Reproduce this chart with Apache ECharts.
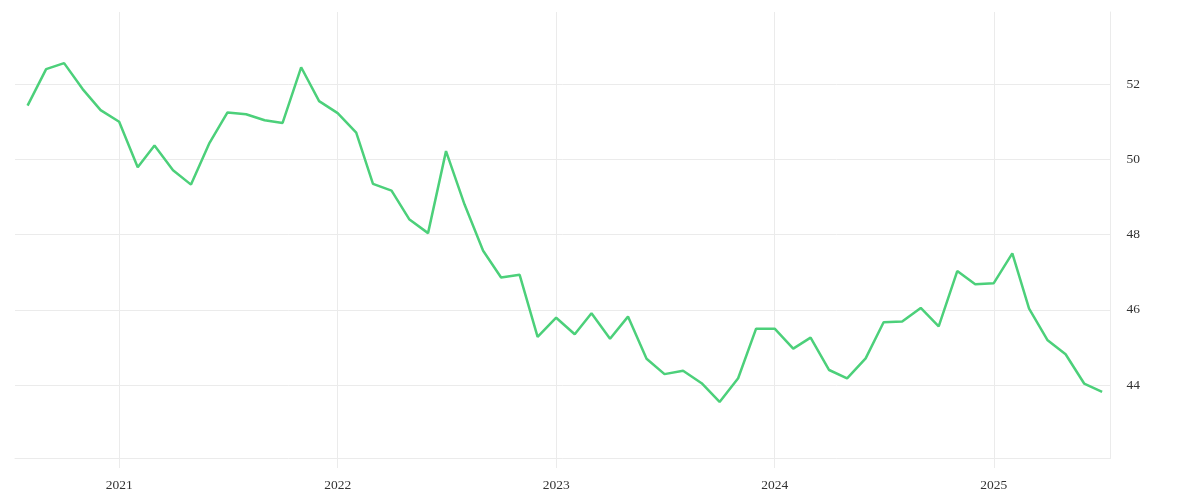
<!DOCTYPE html>
<html>
<head>
<meta charset="utf-8">
<script src="https://cdn.jsdelivr.net/npm/echarts@6/dist/echarts.min.js"></script>
<style>
  html, body { margin: 0; padding: 0; background: #fff; }
  #main { width: 1200px; height: 500px; }
</style>
</head>
<body>
<div id="main"></div>
<script>
// monthly readings, first of each month, Aug 2020 .. Jul 2025
var startYear = 2020;
var startMonth = 8;
var values = [
    51.43, 52.40, 52.56, 51.87, 51.31,
    51.00, 49.79, 50.37, 49.71, 49.33, 50.44, 51.25, 51.20, 51.04, 50.97, 52.45, 51.55,
    51.23, 50.71, 49.35, 49.17, 48.40, 48.04, 50.22, 48.80, 47.57, 46.86, 46.93, 45.28,
    45.79, 45.35, 45.91, 45.23, 45.82, 44.70, 44.29, 44.38, 44.05, 43.55, 44.18, 45.50,
    45.50, 44.97, 45.26, 44.40, 44.18, 44.71, 45.67, 45.69, 46.05, 45.56, 47.03, 46.68,
    46.71, 47.50, 46.03, 45.19, 44.82, 44.04, 43.82
];
var xRange = ['2020-07-11', '2025-07-15'];
var yRange = [42.06, 53.92];

var seriesData = values.map(function (v, i) {
    var m = startMonth - 1 + i;
    var y = startYear + Math.floor(m / 12);
    var mm = (m % 12) + 1;
    var d = y + '-' + (mm < 10 ? '0' + mm : mm) + '-01';
    return [d, v];
});

var dom = document.getElementById('main');
var myChart = echarts.init(dom, null, { renderer: 'canvas' });

var gridColor = '#ebebeb';
var labelFont = {
    fontFamily: 'Liberation Serif',
    fontSize: 13.5,
    color: '#333'
};

var option = {
    animation: false,
    grid: {
        left: 15,
        right: 89.5,
        top: 12,
        bottom: 42
    },
    xAxis: {
        type: 'time',
        min: xRange[0],
        max: xRange[1],
        minInterval: 365 * 24 * 3600 * 1000,
        maxInterval: 366 * 24 * 3600 * 1000,
        axisLine: { show: true, lineStyle: { color: gridColor, width: 1 } },
        axisTick: { show: true, length: 10, lineStyle: { color: gridColor } },
        splitLine: {
            show: true,
            showMinLine: false,
            lineStyle: { color: gridColor, width: 1 }
        },
        axisLabel: Object.assign({
            margin: 20,
            formatter: '{yyyy}',
            showMinLabel: false,
            showMaxLabel: false
        }, labelFont)
    },
    yAxis: {
        type: 'value',
        position: 'right',
        min: yRange[0],
        max: yRange[1],
        splitNumber: 6,
        axisLine: { show: true, lineStyle: { color: gridColor, width: 1 } },
        axisTick: { show: false },
        splitLine: {
            show: true,
            showMinLine: false,
            showMaxLine: false,
            lineStyle: { color: gridColor, width: 1 }
        },
        axisLabel: Object.assign({
            margin: 16,
            showMinLabel: false,
            showMaxLabel: false
        }, labelFont)
    },
    series: [
        {
            type: 'line',
            data: seriesData,
            symbol: 'none',
            lineStyle: { color: '#4cd07a', width: 2.5 },
            itemStyle: { color: '#4cd07a' }
        }
    ]
};

if (option && typeof option === 'object') {
    myChart.setOption(option);
}

window.addEventListener('resize', myChart.resize);
</script>
</body>
</html>
